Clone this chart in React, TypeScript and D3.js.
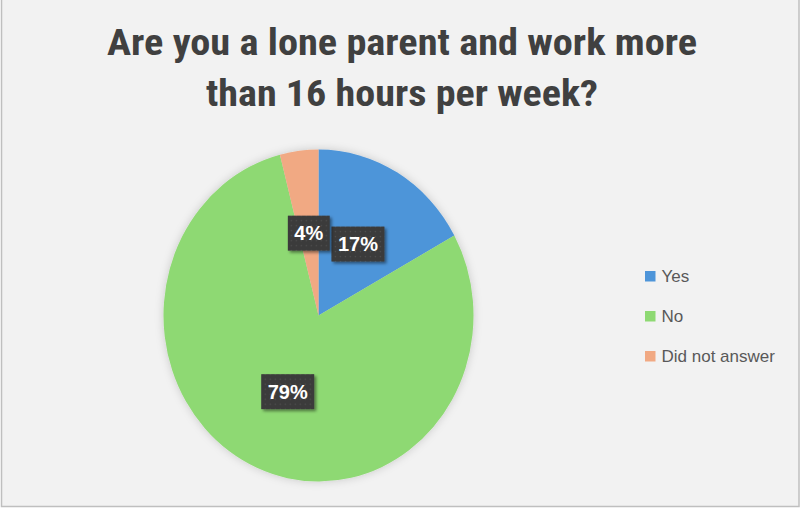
import * as React from 'react';
import { arc, pie, select } from 'd3';

const categories = ['Yes', 'No', 'Did not answer'];
const values = [17, 79, 4];
const labels = ['17%', '79%', '4%'];
const colors = ['#4E95D9', '#8ED973', '#F1A983'];
const titleLines = ['Are you a lone parent and work more', 'than 16 hours per week?'];

const W = 801;
const H = 512;

const App = () => {
    const svgRef = React.useRef<SVGSVGElement>(null);

    React.useEffect(() => {
        document.body.style.margin = '0';
        const svg = select(svgRef.current);
        svg.selectAll('*').remove();

        const defs = svg.append('defs');
        const pat = defs.append('pattern')
            .attr('id', 'dots')
            .attr('width', 5).attr('height', 5)
            .attr('patternUnits', 'userSpaceOnUse');
        pat.append('rect').attr('width', 5).attr('height', 5).attr('fill', '#3a3a3a');
        pat.append('circle').attr('cx', 2.5).attr('cy', 2.5).attr('r', 0.8).attr('fill', '#505050');

        const sh = defs.append('filter').attr('id', 'boxShadow')
            .attr('x', '-30%').attr('y', '-30%').attr('width', '160%').attr('height', '160%');
        sh.append('feDropShadow').attr('dx', 2).attr('dy', 2).attr('stdDeviation', 1.5)
            .attr('flood-color', '#000').attr('flood-opacity', 0.45);

        const pieSh = defs.append('filter').attr('id', 'pieShadow')
            .attr('x', '-20%').attr('y', '-20%').attr('width', '140%').attr('height', '140%');
        pieSh.append('feDropShadow').attr('dx', 0).attr('dy', 0).attr('stdDeviation', 4)
            .attr('flood-color', '#000').attr('flood-opacity', 0.18);

        // chart area
        svg.append('rect')
            .attr('x', 1.5).attr('y', -1).attr('width', 797.5).attr('height', 507.5)
            .attr('fill', '#f2f2f2').attr('stroke', '#bfbfbf').attr('stroke-width', 1.5);

        // title
        const title = svg.append('text')
            .attr('text-anchor', 'middle')
            .attr('fill', '#404040')
            .style('font-family', "'Liberation Sans Narrow', 'Roboto Condensed', Roboto, 'Liberation Sans', sans-serif")
            .style('font-weight', 700)
            .style('font-size', '37px');
        title.selectAll('tspan')
            .data(titleLines)
            .join('tspan')
            .attr('x', 402)
            .attr('y', (d, i) => 55 + i * 51)
            .attr('textLength', (d, i) => (i === 0 ? 590 : 392))
            .attr('lengthAdjust', 'spacingAndGlyphs')
            .text((d) => d);

        // pie
        const cx = 318.5;
        const cy = 315.5;
        const r = 155;
        const ky = 166 / 155;

        const arcs = pie<number>().sort(null).value((d) => d)(values);
        const arcGen = arc<any>().innerRadius(0).outerRadius(r);

        const g = svg.append('g')
            .attr('transform', `translate(${cx},${cy}) scale(1,${ky})`)
            .attr('filter', 'url(#pieShadow)');
        g.selectAll('path')
            .data(arcs)
            .join('path')
            .attr('d', arcGen as any)
            .attr('fill', (d, i) => colors[i]);

        // data labels
        const lg = svg.append('g');
        arcs.forEach((a, i) => {
            const c = arcGen.centroid(a);
            const x = cx + c[0];
            const y = cy + c[1] * ky;
            const grp = lg.append('g').attr('transform', `translate(${x},${y})`);
            const box = grp.append('rect').attr('fill', 'url(#dots)').attr('filter', 'url(#boxShadow)');
            const t = grp.append('text')
                .attr('text-anchor', 'middle')
                .attr('dy', '0.36em')
                .attr('fill', '#ffffff')
                .style('font-family', "'Liberation Sans', Arial, sans-serif")
                .style('font-weight', 700)
                .style('font-size', '20px')
                .text(labels[i]);
            const tw = (t.node() as SVGTextElement).getComputedTextLength();
            const bw = tw + 13;
            const bh = 35;
            box.attr('x', -bw / 2).attr('y', -bh / 2).attr('width', bw).attr('height', bh);
        });

        // legend
        const leg = svg.append('g').attr('transform', 'translate(645,271)');
        const items = leg.selectAll('g')
            .data(categories)
            .join('g')
            .attr('transform', (d, i) => `translate(0,${i * 40})`);
        items.append('rect')
            .attr('width', 10.5).attr('height', 10.5)
            .attr('fill', (d, i) => colors[i]);
        items.append('text')
            .attr('x', 16.5).attr('y', 11)
            .attr('fill', '#595959')
            .style('font-family', "'Liberation Sans', Arial, sans-serif")
            .style('font-size', '17px')
            .text((d) => d);
    }, []);

    return (
        <svg ref={svgRef} width={W} height={H}
            style={{ position: 'absolute', left: 0, top: 0, display: 'block', background: '#ffffff' }} />
    );
};

export default App;
